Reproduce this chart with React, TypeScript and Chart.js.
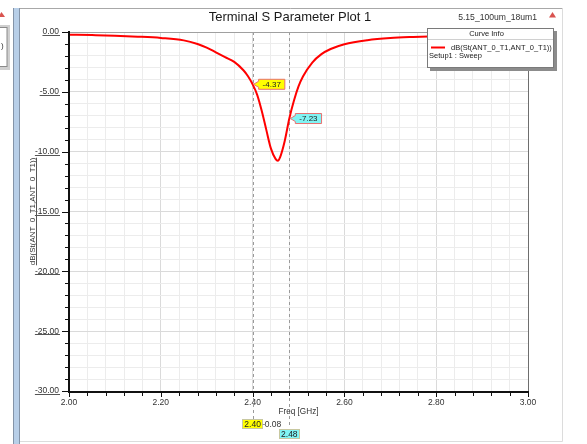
import React, { useEffect, useRef } from "react";
import { Chart, registerables } from "chart.js";

Chart.register(...registerables);

// ---------- data ----------
const freqGHz = [
  2.0, 2.05, 2.1, 2.15, 2.2, 2.25, 2.28, 2.3, 2.32, 2.34, 2.36, 2.38, 2.39, 2.4,
  2.41, 2.42, 2.43, 2.44, 2.45, 2.455, 2.46, 2.47, 2.48, 2.49, 2.5, 2.51, 2.53,
  2.55, 2.57, 2.6, 2.65, 2.7, 2.75, 2.8, 2.9, 3.0,
];
const s11dB = [
  -0.22, -0.26, -0.31, -0.39, -0.5, -0.7, -1.0, -1.3, -1.7, -2.1, -2.5, -3.2,
  -3.7, -4.37, -5.25, -6.6, -8.2, -9.75, -10.6, -10.75, -10.45, -9.1, -7.23,
  -5.75, -4.55, -3.7, -2.55, -1.85, -1.42, -1.02, -0.68, -0.5, -0.41, -0.35,
  -0.3, -0.27,
];
const xMin = 2.0;
const xMax = 3.0;
const xMinorStep = 0.04;
const xMajorStep = 0.2;
const yMin = -30;
const yMax = 0;
const yMinorStep = 1;
const yMajorStep = 5;

const markerFreqs = [2.4, 2.48];
const markerValues = [-4.37, -7.23];
const markerValueLabels = ["-4.37", "-7.23"];
const markerFreqLabels = ["2.40", "2.48"];
const markerColors = ["#ffff00", "#80f4f4"];
const deltaLabel = "0.08";

const titleText = "Terminal S Parameter Plot 1";
const designText = "5.15_100um_18um1";
const seriesName = "dB(St(ANT_0_T1,ANT_0_T1))";
const setupText = "Setup1 : Sweep";
const legendHeader = "Curve Info";
const xAxisTitle = "Freq [GHz]";
const yAxisTitle = "dB(St(ANT_0_T1,ANT_0_T1))";

const FONT = '"Liberation Sans", Arial, Helvetica, sans-serif';

const isMajor = (v: number, step: number) =>
  Math.abs(v / step - Math.round(v / step)) < 1e-6;

function callout(
  ctx: CanvasRenderingContext2D,
  px: number,
  py: number,
  text: string,
  fill: string
) {
  ctx.save();
  ctx.font = `8px ${FONT}`;
  const w = ctx.measureText(text).width + 8;
  const bx = px + 6;
  const h = 10;
  ctx.beginPath();
  ctx.moveTo(px + 1, py);
  ctx.lineTo(bx, py - 3);
  ctx.lineTo(bx, py - h / 2);
  ctx.lineTo(bx + w, py - h / 2);
  ctx.lineTo(bx + w, py + h / 2);
  ctx.lineTo(bx, py + h / 2);
  ctx.lineTo(bx, py + 3);
  ctx.closePath();
  ctx.fillStyle = fill;
  ctx.fill();
  ctx.strokeStyle = "#e87070";
  ctx.lineWidth = 1;
  ctx.stroke();
  ctx.fillStyle = "#222";
  ctx.textAlign = "center";
  ctx.textBaseline = "middle";
  ctx.fillText(text, bx + w / 2, py + 0.5);
  ctx.restore();
}

function boxLabel(
  ctx: CanvasRenderingContext2D,
  cx: number,
  top: number,
  text: string,
  fill: string
) {
  ctx.save();
  ctx.font = `8.5px ${FONT}`;
  const w = ctx.measureText(text).width + 4;
  const h = 10;
  ctx.fillStyle = fill;
  ctx.fillRect(Math.round(cx - w / 2), top, Math.round(w), h);
  ctx.strokeStyle = "#c8c8a0";
  ctx.lineWidth = 1;
  ctx.strokeRect(Math.round(cx - w / 2) + 0.5, top + 0.5, Math.round(w) - 1, h - 1);
  ctx.fillStyle = "#222";
  ctx.textAlign = "center";
  ctx.textBaseline = "middle";
  ctx.fillText(text, cx, top + h / 2 + 0.5);
  ctx.restore();
}

const decorPlugin = {
  id: "decor",
  beforeDraw(chart: any) {
    const { ctx, width, height } = chart;
    ctx.save();
    ctx.fillStyle = "#ffffff";
    ctx.fillRect(0, 0, width, height);

    // outer frame
    ctx.strokeStyle = "#a8a8a8";
    ctx.lineWidth = 1;
    ctx.beginPath();
    ctx.moveTo(19, 8.5);
    ctx.lineTo(562.5, 8.5);
    ctx.stroke();
    ctx.strokeStyle = "#dcdcdc";
    ctx.beginPath();
    ctx.moveTo(562.5, 8.5);
    ctx.lineTo(562.5, 441.5);
    ctx.lineTo(19, 441.5);
    ctx.stroke();

    // left blue bar
    ctx.fillStyle = "#b8cfe8";
    ctx.fillRect(14, 8, 6, height - 8);
    ctx.strokeStyle = "#8494a8";
    ctx.beginPath();
    ctx.moveTo(13.5, 8);
    ctx.lineTo(13.5, height);
    ctx.moveTo(19.5, 8);
    ctx.lineTo(19.5, height);
    ctx.stroke();

    // small left panel (cut off)
    ctx.fillStyle = "#cfcfcf";
    ctx.fillRect(0, 25, 10, 45);
    ctx.fillStyle = "#ffffff";
    ctx.fillRect(0, 27, 7, 40);
    ctx.strokeStyle = "#8a8a8a";
    ctx.strokeRect(-1, 27.5, 8, 39);
    ctx.fillStyle = "#333";
    ctx.font = `8px ${FONT}`;
    ctx.textBaseline = "middle";
    ctx.textAlign = "left";
    ctx.fillText(")", 1, 46);

    // red triangles
    ctx.fillStyle = "#d9534f";
    ctx.beginPath();
    ctx.moveTo(-2, 17);
    ctx.lineTo(1.5, 12);
    ctx.lineTo(5, 17);
    ctx.closePath();
    ctx.fill();
    ctx.beginPath();
    ctx.moveTo(549, 17.5);
    ctx.lineTo(552.5, 12);
    ctx.lineTo(556, 17.5);
    ctx.closePath();
    ctx.fill();

    // titles
    ctx.fillStyle = "#1a1a1a";
    ctx.font = `13px ${FONT}`;
    ctx.textAlign = "center";
    ctx.textBaseline = "middle";
    ctx.fillText(titleText, 290, 17.5);
    ctx.font = `8.6px ${FONT}`;
    ctx.fillStyle = "#333";
    ctx.textAlign = "right";
    ctx.fillText(designText, 537, 17.5);
    ctx.restore();
  },
  beforeDatasetsDraw(chart: any) {
    const { ctx, chartArea } = chart;
    const xs = chart.scales.x;
    ctx.save();
    ctx.strokeStyle = "#9a9a9a";
    ctx.lineWidth = 1;
    ctx.setLineDash([3, 3]);
    const ends = [419, 428];
    markerFreqs.forEach((f, i) => {
      const x = Math.round(xs.getPixelForValue(f)) + 0.5;
      ctx.beginPath();
      ctx.moveTo(x, chartArea.top);
      ctx.lineTo(x, ends[i]);
      ctx.stroke();
    });
    ctx.restore();
  },
  afterDraw(chart: any) {
    const { ctx, chartArea } = chart;
    const xs = chart.scales.x;
    const ys = chart.scales.y;
    const { left, right, top, bottom } = chartArea;
    ctx.save();

    // plot top & right borders
    ctx.lineWidth = 1;
    ctx.strokeStyle = "#a0a0a0";
    ctx.beginPath();
    ctx.moveTo(left, top + 0.5);
    ctx.lineTo(right, top + 0.5);
    ctx.stroke();
    ctx.strokeStyle = "#6e6e6e";
    ctx.beginPath();
    ctx.moveTo(right + 0.5, top);
    ctx.lineTo(right + 0.5, bottom);
    ctx.stroke();

    // axes
    ctx.strokeStyle = "#111";
    ctx.lineWidth = 2;
    ctx.beginPath();
    ctx.moveTo(left, top - 1);
    ctx.lineTo(left, bottom + 1);
    ctx.lineTo(right + 1, bottom + 1);
    ctx.stroke();

    // y ticks
    ctx.lineWidth = 1;
    for (let v = yMin; v <= yMax + 1e-9; v += yMinorStep) {
      const y = Math.round(ys.getPixelForValue(v)) + 0.5;
      const len = isMajor(v, yMajorStep) ? 6 : 3;
      ctx.beginPath();
      ctx.moveTo(left - 1 - len, y);
      ctx.lineTo(left, y);
      ctx.stroke();
    }
    // x ticks
    const nx = Math.round((xMax - xMin) / xMinorStep);
    for (let i = 0; i <= nx; i++) {
      const v = xMin + i * xMinorStep;
      const x = Math.round(xs.getPixelForValue(v)) + 0.5;
      const len = isMajor(v, xMajorStep) ? 4 : 3;
      ctx.beginPath();
      ctx.moveTo(x, bottom + 1);
      ctx.lineTo(x, bottom + 2 + len);
      ctx.stroke();
    }

    // underline y tick labels
    ctx.font = `8.5px ${FONT}`;
    ctx.strokeStyle = "#555";
    for (let v = yMin; v <= yMax + 1e-9; v += yMajorStep) {
      const y = Math.round(ys.getPixelForValue(v)) + 3.5;
      const w = ctx.measureText(v.toFixed(2)).width;
      ctx.beginPath();
      ctx.moveTo(left - 10 - w, y);
      ctx.lineTo(left - 9, y);
      ctx.stroke();
    }

    // axis titles
    ctx.fillStyle = "#333";
    ctx.font = `8.2px ${FONT}`;
    ctx.textAlign = "center";
    ctx.textBaseline = "middle";
    ctx.fillText(xAxisTitle, (left + right) / 2, bottom + 21);
    ctx.save();
    ctx.translate(33, (top + bottom) / 2);
    ctx.rotate(-Math.PI / 2);
    ctx.font = `8px ${FONT}`;
    ctx.fillText(yAxisTitle, 0, 0);
    const yw = ctx.measureText(yAxisTitle).width;
    ctx.strokeStyle = "#555";
    ctx.beginPath();
    ctx.moveTo(-yw / 2, 3.5);
    ctx.lineTo(yw / 2, 3.5);
    ctx.stroke();
    ctx.restore();

    // marker callouts on the curve
    markerFreqs.forEach((f, i) => {
      const px = xs.getPixelForValue(f);
      const py = ys.getPixelForValue(markerValues[i]);
      callout(ctx, px, py, markerValueLabels[i], markerColors[i]);
    });

    // marker frequency labels
    const x0 = xs.getPixelForValue(markerFreqs[0]);
    const x1 = xs.getPixelForValue(markerFreqs[1]);
    boxLabel(ctx, x0, 419, markerFreqLabels[0], markerColors[0]);
    boxLabel(ctx, x1, 429, markerFreqLabels[1], markerColors[1]);
    ctx.fillStyle = "#333";
    ctx.font = `8.5px ${FONT}`;
    ctx.textAlign = "center";
    ctx.textBaseline = "middle";
    ctx.fillText(deltaLabel, (x0 + x1) / 2 + 2, 424.5);
    ctx.strokeStyle = "#999";
    ctx.lineWidth = 1;
    ctx.beginPath();
    ctx.moveTo(x0 + 10, 424.5);
    ctx.lineTo(x0 + 13, 424.5);
    ctx.stroke();

    // legend box (Curve Info)
    const lx = 427, ly = 28, lw = 127, lh = 40;
    ctx.fillStyle = "#8c8c8c";
    ctx.fillRect(lx + 3, ly + 3, lw, lh);
    ctx.fillStyle = "#ffffff";
    ctx.fillRect(lx, ly, lw, lh);
    ctx.strokeStyle = "#7a7a7a";
    ctx.lineWidth = 1;
    ctx.strokeRect(lx + 0.5, ly + 0.5, lw - 1, lh - 1);
    ctx.strokeStyle = "#d0d0d0";
    ctx.beginPath();
    ctx.moveTo(lx + 1, ly + 11.5);
    ctx.lineTo(lx + lw - 1, ly + 11.5);
    ctx.stroke();
    ctx.fillStyle = "#222";
    ctx.font = `7.5px ${FONT}`;
    ctx.textAlign = "center";
    ctx.fillText(legendHeader, lx + lw / 2 - 4, ly + 6);
    ctx.strokeStyle = "#ff0000";
    ctx.lineWidth = 2;
    ctx.beginPath();
    ctx.moveTo(lx + 4, ly + 19.5);
    ctx.lineTo(lx + 18, ly + 19.5);
    ctx.stroke();
    ctx.textAlign = "left";
    ctx.fillStyle = "#222";
    ctx.fillText(seriesName, lx + 24, ly + 19.5);
    ctx.fillText(setupText, lx + 2, ly + 27.5);

    ctx.restore();
  },
};

export default function App() {
  const canvasRef = useRef<HTMLCanvasElement | null>(null);

  useEffect(() => {
    if (!canvasRef.current) return;
    const chart = new Chart(canvasRef.current, {
      type: "line",
      data: {
        datasets: [
          {
            label: seriesName,
            data: freqGHz.map((f, i) => ({ x: f, y: s11dB[i] })),
            borderColor: "#ff0000",
            borderWidth: 2,
            pointRadius: 0,
            cubicInterpolationMode: "monotone",
            fill: false,
          },
        ],
      },
      options: {
        animation: false,
        responsive: false,
        maintainAspectRatio: false,
        layout: { padding: { top: 32, right: 59, left: 0, bottom: 0 } },
        plugins: {
          legend: { display: false },
          tooltip: { enabled: false },
          title: { display: false },
        },
        scales: {
          x: {
            type: "linear",
            min: xMin,
            max: xMax,
            ticks: {
              stepSize: xMinorStep,
              autoSkip: false,
              maxRotation: 0,
              padding: 7,
              color: "#333",
              font: { family: FONT, size: 8.5 },
              callback: (v: any) =>
                isMajor(Number(v), xMajorStep) ? Number(v).toFixed(2) : "",
            },
            grid: {
              drawTicks: false,
              lineWidth: 1,
              color: (c: any) =>
                c.tick && isMajor(c.tick.value, xMajorStep) ? "#dadada" : "#ececec",
            },
            border: { display: false },
            afterFit: (s: any) => {
              s.height = 53;
            },
          },
          y: {
            type: "linear",
            min: yMin,
            max: yMax,
            ticks: {
              stepSize: yMinorStep,
              autoSkip: false,
              padding: 10,
              color: "#333",
              font: { family: FONT, size: 8.5 },
              callback: (v: any) =>
                isMajor(Number(v), yMajorStep) ? Number(v).toFixed(2) : "",
            },
            grid: {
              drawTicks: false,
              lineWidth: 1,
              color: (c: any) =>
                c.tick && isMajor(c.tick.value, yMajorStep) ? "#dadada" : "#ececec",
            },
            border: { display: false },
            afterFit: (s: any) => {
              s.width = 69;
            },
          },
        },
      },
      plugins: [decorPlugin],
    } as any);
    return () => chart.destroy();
  }, []);

  return (
    <div style={{ position: "absolute", left: 0, top: 0, width: 587, height: 444 }}>
      <canvas
        ref={canvasRef}
        width={587}
        height={444}
        style={{ display: "block", width: 587, height: 444 }}
      />
    </div>
  );
}
